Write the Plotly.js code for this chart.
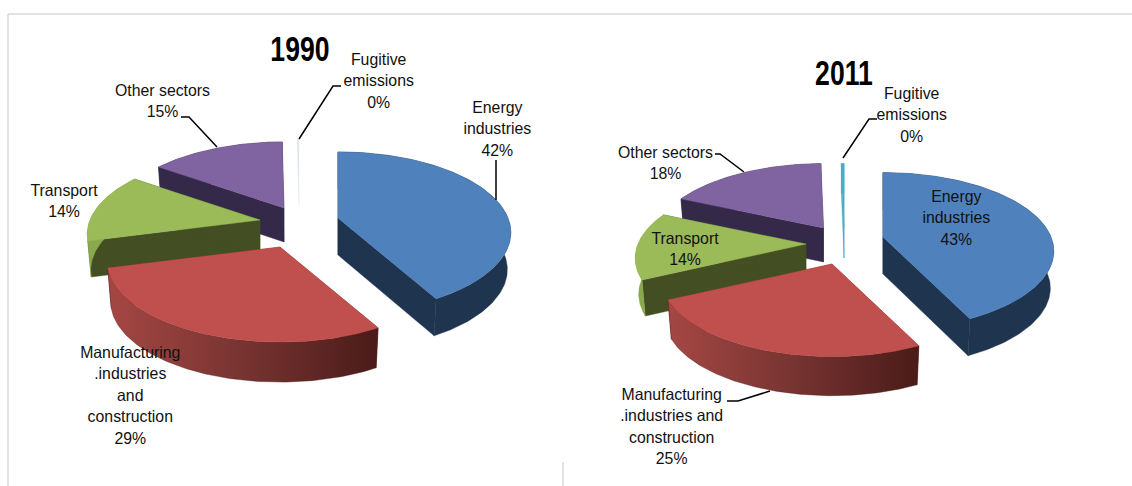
<!DOCTYPE html>
<html><head><meta charset="utf-8">
<script src="https://cdn.plot.ly/plotly-3.0.1.min.js"></script>
<style>html,body{margin:0;padding:0;background:#fff}#c{width:1132px;height:486px}</style>
</head><body><div id="c"></div>
<script>
// ---- data ----
const sectors = ["Energy industries","Manufacturing industries and construction","Transport","Other sectors","Fugitive emissions"];
const values1990 = [42, 29, 14, 15, 0.2];
const values2011 = [43, 25, 14, 18, 0.3];
const labels1990 = ["Energy<br>industries","Manufacturing<br>.industries<br>and<br>construction","Transport","Other sectors","Fugitive<br>emissions"];
const labels2011 = ["Energy<br>industries","Manufacturing<br>.industries and<br>construction","Transport","Other sectors","Fugitive<br>emissions"];

// ---- styles ----
const faceColors = ["#4f81bd","#c0504d","#9bbb59","#8064a2","#4bacc6"];
const edgeColors = ["#1f344f","#7a2f2d","#434f22","#35294a","#4bacc6"];
const rimColors  = [null,null,"#8aa84e","#35294a","#4bacc6"];
const rimGradient = [[0,"#a54744"],[0.5,"#773431"],[1,"#4a1b19"]];
const FONT = "Liberation Sans, Arial, sans-serif";

// ---- geometry of each pie (tilted disc in pixel-range axes) ----
const pie1990 = {
  values: values1990, labels: labels1990, title: "1990", titlePos: [300,48],
  rx: 170, ry: 78, k: 0.18, depth: [37,40,36,34,0],
  apexX: [338,280,260,284,299], apexY: [218,247,220,208,205],
  faces: ["#4f81bd","#c0504d","#9bbb59","#8064a2","#dde6ec"],
  labelPos: [[497,128],[130,395],[64,200],[162,100],[378,80]],
  leaders: [[[496,496],[160,200]],[[181,189,217],[117,117,147]],[[341,333,299],[86,86,139]]]
};
const pie2011 = {
  values: values2011, labels: labels2011, title: "2011", titlePos: [844,72],
  rx: 168, ry: 76, k: 0.18, depth: [37,39,36,34,30],
  apexX: [883,832,806,823.5,844], apexY: [237,264,244,228,228],
  faces: faceColors,
  labelPos: [[956,217],[671,426],[685,248],[665,162],[911,114]],
  leaders: [[[715,720,744],[154,154,172]],[[877,869,843],[119,119,158]],[[727,738,770],[401,401,391]]]
};
const drawOrder = [4,3,2,0,1];
const wallShrink = 0.98;

const traces = [], annotations = [], shapes = [];

function rimPoint(p, i, deg){
  const t = deg*Math.PI/180, ux = Math.sin(t), uy = -Math.cos(t);
  const f = 1/(1 - p.k*uy);
  return [p.apexX[i] + p.rx*ux*f, p.apexY[i] + p.ry*uy*f];
}
function poly(xs, ys, color, grad){
  const tr = {type:"scatter", x:xs, y:ys, mode:"lines", fill:"toself", hoverinfo:"skip",
    showlegend:false, line:{width:0.4, color:color||"#4a1b19"}, fillcolor:color||undefined};
  if(grad){ tr.fillgradient = {type:"horizontal", colorscale:rimGradient, start:grad[0], stop:grad[1]}; }
  traces.push(tr);
}
function drawPie(p){
  const total = p.values.reduce((a,b)=>a+b,0), starts = [];
  let acc = 0;
  p.values.forEach(v=>{ starts.push(acc/total*360); acc += v; });
  drawOrder.forEach(i=>{
    const a0 = starts[i], a1 = a0 + p.values[i]/total*360, d = p.depth[i];
    const rx=[], ry=[];
    for(let a=a0; a<a1; a+=Math.min(1,(a1-a0)/2)){ const q=rimPoint(p,i,a); rx.push(q[0]); ry.push(q[1]); }
    const e=rimPoint(p,i,a1); rx.push(e[0]); ry.push(e[1]);
    const ax=p.apexX[i], ay=p.apexY[i];
    if(d>0){
      const n=rx.length-1;
      const low = x => ax + (x-ax)*wallShrink;
      // flat cut walls, then the curved outer wall
      poly([ax,rx[0],low(rx[0]),ax,ax],[ay,ry[0],ry[0]+d,ay+d,ay],edgeColors[i]);
      poly([ax,rx[n],low(rx[n]),ax,ax],[ay,ry[n],ry[n]+d,ay+d,ay],edgeColors[i]);
      const wx=rx.concat(rx.slice().reverse().map(low)).concat([rx[0]]);
      const wy=ry.concat(ry.slice().reverse().map(v=>v+d)).concat([ry[0]]);
      if(i===1){ poly(wx,wy,null,[Math.min(...rx),Math.max(...rx)]); }
      else { poly(wx,wy,rimColors[i]||edgeColors[i]); }
    }
    poly([ax].concat(rx,[ax]),[ay].concat(ry,[ay]),p.faces[i]);
    annotations.push({x:p.labelPos[i][0], y:p.labelPos[i][1], xref:"x", yref:"y", showarrow:false,
      xanchor:"center", yanchor:"middle", align:"center",
      text:p.labels[i]+"<br>"+Math.round(p.values[i])+"%",
      font:{family:FONT,size:16.5,color:"#111"}});
  });
  annotations.push({x:p.titlePos[0], y:p.titlePos[1], xref:"x", yref:"y", showarrow:false,
    xanchor:"center", yanchor:"middle", text:"<b>"+p.title+"</b>",
    font:{family:FONT,size:35,color:"#000"}});
  p.leaders.forEach(l=>traces.push({type:"scatter",x:l[0],y:l[1],mode:"lines",hoverinfo:"skip",
    showlegend:false,line:{color:"#000",width:1.5}}));
}
drawPie(pie1990);
drawPie(pie2011);

// frame remnants of the two pasted charts
const frame = "#d9d9d9";
[[8,14,8,486],[8,14,1132,14],[563,462,563,486]].forEach(s=>shapes.push({type:"line",xref:"x",yref:"y",
  x0:s[0],y0:s[1],x1:s[2],y1:s[3],line:{color:frame,width:1.5},layer:"below"}));

Plotly.newPlot("c", traces, {
  width:1132, height:486, margin:{l:0,r:0,t:0,b:0}, paper_bgcolor:"#fff", plot_bgcolor:"#fff",
  xaxis:{range:[0,1132],visible:false,fixedrange:true},
  yaxis:{range:[486,0],visible:false,fixedrange:true},
  annotations, shapes, showlegend:false
},{displayModeBar:false,staticPlot:true}).then(gd=>{
  // the source text is a condensed face: narrow the real text elements in place
  gd.querySelectorAll("text.annotation-text").forEach(t=>{
    const isTitle = /^(1990|2011)$/.test(t.textContent.trim());
    const sx = isTitle ? 0.76 : 0.96;
    const b = t.getBBox(), cx = b.x + b.width/2, cy = b.y + b.height/2;
    t.setAttribute("transform",`translate(${cx},${cy}) scale(${sx},1) translate(${-cx},${-cy})`);
  });
});
</script></body></html>
